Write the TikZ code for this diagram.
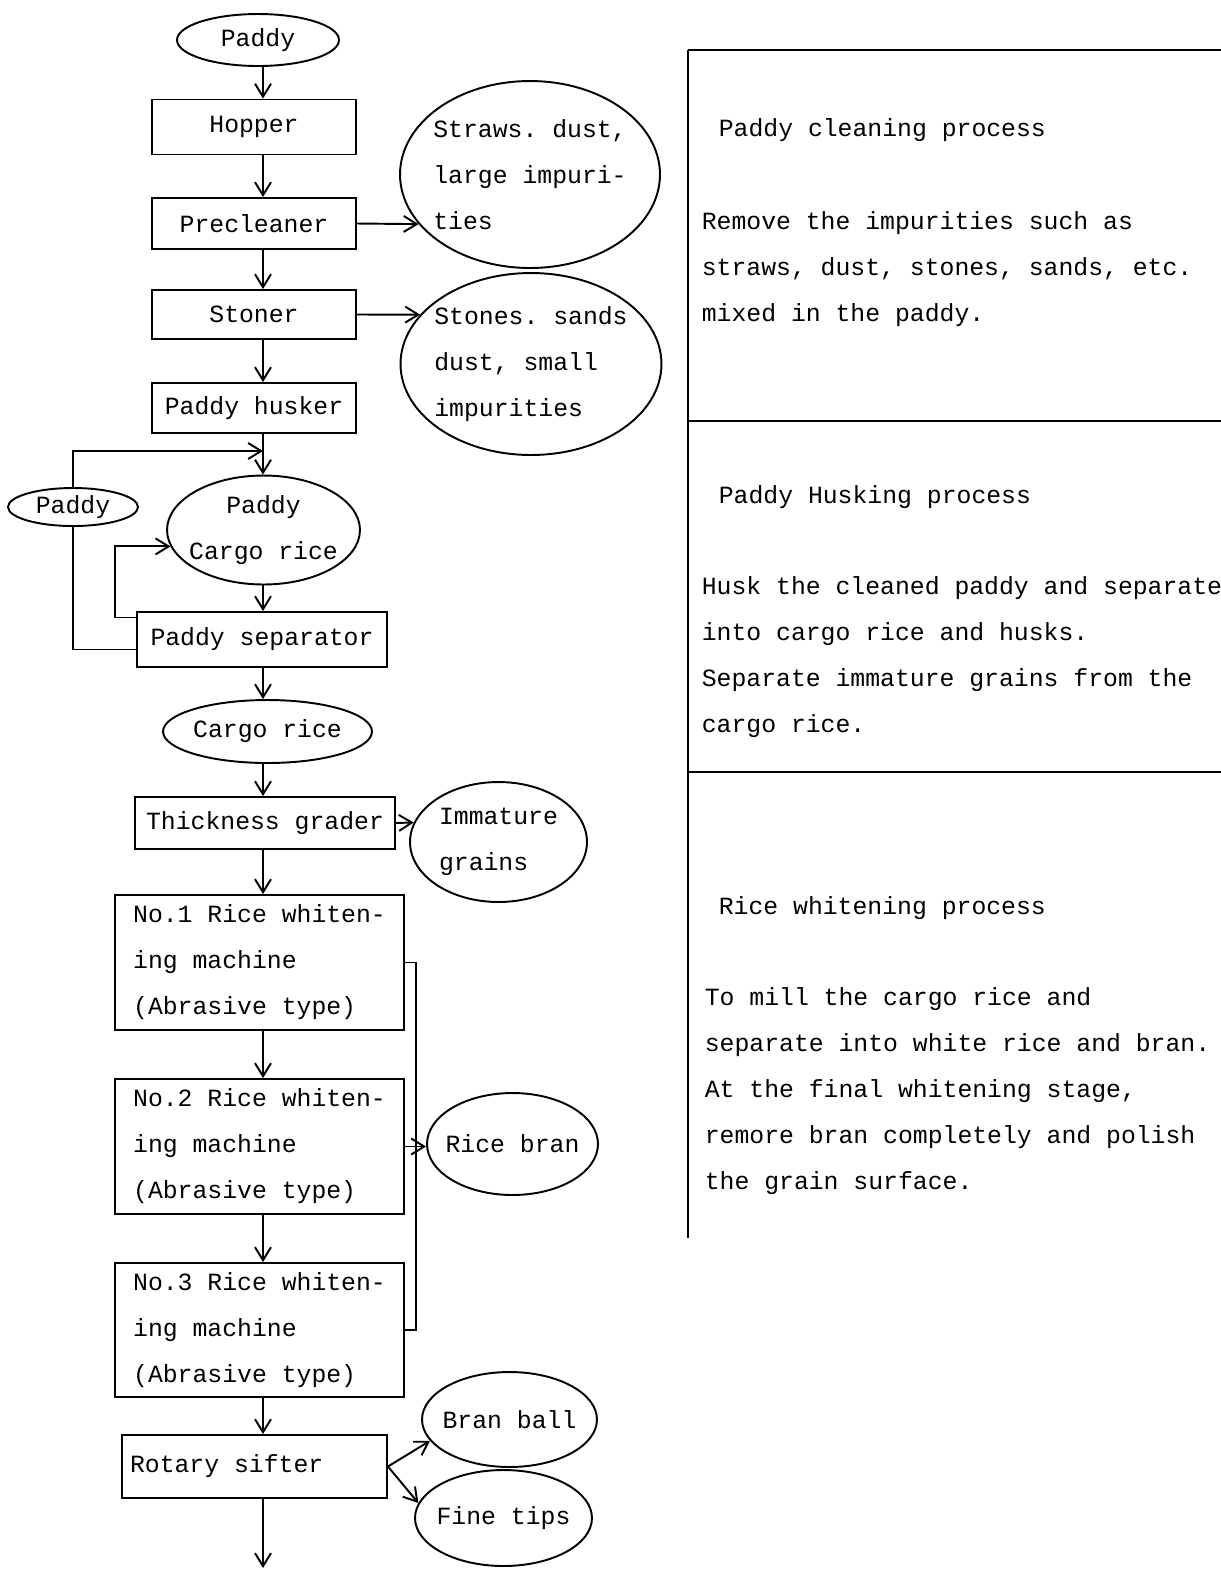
\documentclass[tikz,border=0pt]{standalone}
\usepackage{fontspec}
\newfontfamily\paperfont{Liberation Mono}
\usetikzlibrary{shapes,arrows.meta}
\tikzstyle{every picture}=[->,>={Straight Barb[length=2.6mm,width=3.2mm]}]

\begin{document}
\begin{tikzpicture}[x=0.02cm,y=-0.02cm,line width=1.1pt,
    every node/.style={font=\paperfont\frenchspacing\fontsize{14.1}{26.2}\selectfont},
    unit/.style={rectangle,draw,inner sep=0pt},
    oval/.style={ellipse,draw,inner xsep=-1cm,inner ysep=0pt}]
    \useasboundingbox (0,0) rectangle (1221,1570);
    \coordinate (spine) at (263,0);
    \coordinate (merge) at (263,451);
    \coordinate (back) at (115,0);
    \coordinate (bus) at (416,0);
    \coordinate (out) at (266,1568);

    % Paddy cleaning
    \node[oval,minimum width=3.24cm,minimum height=1.04cm] (paddy) at (258,40) {Paddy};
    \node[unit,minimum width=4.08cm,minimum height=1.1cm] (hopper) at (254,127) {Hopper};
    \node[unit,minimum width=4.08cm,minimum height=1.02cm] (precl) at (254,223.5) {Precleaner};
    \node[unit,minimum width=4.08cm,minimum height=0.98cm] (stoner) at (254,314.5) {Stoner};
    \node[unit,minimum width=4.08cm,minimum height=1cm] (husker) at (254,408) {Paddy husker};
    \node[oval,align=left,minimum width=5.2cm,minimum height=3.74cm] (waste1) at (530,174.5) {Straws. dust,\\large impuri-\\ties};
    \node[oval,align=left,minimum width=5.22cm,minimum height=3.64cm] (waste2) at (531,364) {Stones. sands\\dust, small\\impurities};
    \draw (spine |- paddy.south) -- (spine |- hopper.north);
    \draw (spine |- hopper.south) -- (spine |- precl.north);
    \draw (spine |- precl.south) -- (spine |- stoner.north);
    \draw (spine |- stoner.south) -- (spine |- husker.north);
    \draw (precl.east) -- (waste1.204);
    \draw (stoner.east) -- (waste2.156);

    % Paddy husking
    \node[oval,minimum width=2.6cm,minimum height=0.76cm] (paddyR) at (73,507) {Paddy};
    \node[oval,align=center,minimum width=3.86cm,minimum height=2.18cm] (mixed) at (263.5,530) {Paddy\\Cargo rice};
    \node[unit,minimum width=5cm,minimum height=1.1cm] (separator) at (262,639.5) {Paddy separator};
    \node[oval,minimum width=4.18cm,minimum height=1.26cm] (cargo) at (267.5,731.5) {Cargo rice};
    \node[unit,minimum width=5.2cm,minimum height=1.04cm] (grader) at (265,823) {Thickness grader};
    \node[oval,align=left,minimum width=3.54cm,minimum height=2.4cm] (immature) at (498.5,842) {Immature\\grains};
    \draw (spine |- husker.south) -- (spine |- mixed.north);
    \draw (paddyR.north) |- (merge);
    \draw[-] (paddyR.south) |- ([yshift=-0.2cm]separator.west);
    \draw ([yshift=0.44cm]separator.west) -| (mixed.190 -| back) -- (mixed.190);
    \draw (spine |- mixed.south) -- (spine |- separator.north);
    \draw (spine |- separator.south) -- (spine |- cargo.north);
    \draw (spine |- cargo.south) -- (spine |- grader.north);
    \draw (grader.east) -- (immature.167);

    % Rice whitening
    \node[unit,align=left,minimum width=5.78cm,minimum height=2.7cm] (mill1) at (259.5,962.5) {No.1 Rice whiten-\\ing machine\\(Abrasive type)};
    \node[unit,align=left,minimum width=5.78cm,minimum height=2.7cm] (mill2) at (259.5,1146.5) {No.2 Rice whiten-\\ing machine\\(Abrasive type)};
    \node[unit,align=left,minimum width=5.78cm,minimum height=2.68cm] (mill3) at (259.5,1330) {No.3 Rice whiten-\\ing machine\\(Abrasive type)};
    \node[oval,minimum width=3.42cm,minimum height=2.04cm] (bran) at (512.5,1144) {Rice bran};
    \draw (spine |- grader.south) -- (spine |- mill1.north);
    \draw (spine |- mill1.south) -- (spine |- mill2.north);
    \draw (spine |- mill2.south) -- (spine |- mill3.north);
    \draw[-] (mill1.east) -- (mill1.east -| bus) -- (mill3.east -| bus) -- (mill3.east);
    \draw (mill2.east) -- (mill2.east -| bran.west);

    % Sifting
    \node[unit,align=flush left,text width=4.98cm,inner xsep=0.16cm,minimum height=1.26cm] (sifter) at (254.5,1466.5) {Rotary sifter};
    \node[oval,minimum width=3.5cm,minimum height=1.9cm] (ball) at (509.5,1419.5) {Bran ball};
    \node[oval,minimum width=3.54cm,minimum height=1.92cm] (tips) at (503.5,1518) {Fine tips};
    \draw (spine |- mill3.south) -- (spine |- sifter.north);
    \draw (sifter.east) -- (ball.195);
    \draw (sifter.east) -- (tips.170);
    \draw (spine |- sifter.south) -- (spine |- out);

    % Process notes
    \draw[-] (688,50) -- (688,1238);
    \draw[-] (688,50) -- (1221,50);
    \draw[-] (688,421) -- (1221,421);
    \draw[-] (688,772) -- (1221,772);
    \node[anchor=west] (head1) at (712,130) {Paddy cleaning process};
    \node[anchor=west,align=left] (note1) at (695,269) {Remove the impurities such as\\straws, dust, stones, sands, etc.\\mixed in the paddy.};
    \node[anchor=west] (head2) at (712,497) {Paddy Husking process};
    \node[anchor=west,align=left] (note2) at (695,657) {Husk the cleaned paddy and separate\\into cargo rice and husks.\\Separate immature grains from the\\cargo rice.};
    \node[anchor=west] (head3) at (712,908) {Rice whitening process};
    \node[anchor=west,align=left] (note3) at (698,1091) {To mill the cargo rice and\\separate into white rice and bran.\\At the final whitening stage,\\remore bran completely and polish\\the grain surface.};
\end{tikzpicture}
\end{document}
